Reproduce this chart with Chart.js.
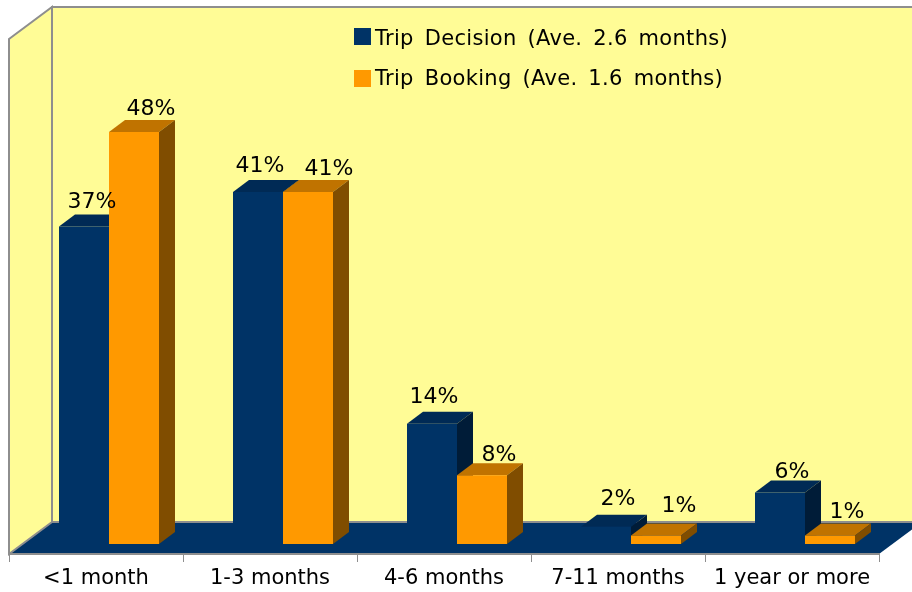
<!DOCTYPE html>
<html>
<head>
<meta charset="utf-8">
<title>Trip decision and booking</title>
<script src="https://cdn.jsdelivr.net/npm/chart.js@4/dist/chart.umd.min.js"></script>
<style>
  html, body { margin: 0; padding: 0; background: #fff; }
  canvas { display: block; }
</style>
</head>
<body>
<canvas id="myChart" width="912" height="592"></canvas>
<script>
const categories = ['<1 month', '1-3 months', '4-6 months', '7-11 months', '1 year or more'];
const tripDecision = [37, 41, 14, 2, 6];
const tripBooking = [48, 41, 8, 1, 1];
const decisionLabel = 'Trip Decision (Ave. 2.6 months)';
const bookingLabel = 'Trip Booking (Ave. 1.6 months)';

// label offsets from the bar's top centre, the original places them unevenly
const decisionNudge = [[8, -18], [2, -20], [2, -21], [12, -22], [12, -15]];
const bookingNudge = [[17, -17], [21, -17], [17, -14], [23, -23], [17, -17]];

const fontName = '"DejaVu Sans", Verdana, sans-serif';
const wallColor = '#fffc96';
const edgeColor = '#8e8e8e';
const navy = { front: '#003366', top: '#002a55', side: '#001c38' };
const orange = { front: '#ff9900', top: '#c07300', side: '#804d00' };

const wallDepth = { x: 43, y: 32 };
const barOffset = { x: 13, y: -10 };
const barDepth = { x: 16, y: 12 };

function poly(c, pts, fill, stroke) {
  c.beginPath();
  pts.forEach((p, i) => i ? c.lineTo(p[0], p[1]) : c.moveTo(p[0], p[1]));
  c.closePath();
  c.fillStyle = fill;
  c.fill();
  if (stroke) {
    c.strokeStyle = stroke;
    c.lineWidth = 2;
    c.stroke();
  }
}

const box3d = {
  id: 'box3d',
  beforeDraw(chart) {
    const c = chart.ctx, a = chart.chartArea;
    const bx = a.left + wallDepth.x, by = a.bottom - wallDepth.y, ty = a.top - wallDepth.y;
    c.save();
    // floor first so the wall edges stay visible on top of it
    poly(c, [[a.left, a.bottom], [bx, by], [a.right + wallDepth.x, by], [a.right, a.bottom]], navy.front);
    poly(c, [[bx, ty], [chart.width + 20, ty], [chart.width + 20, by], [bx, by]], wallColor, edgeColor);
    poly(c, [[a.left, a.top], [bx, ty], [bx, by], [a.left, a.bottom]], wallColor, edgeColor);
    c.restore();
  },
  beforeDatasetsDraw(chart) {
    const c = chart.ctx;
    c.save();
    c.translate(barOffset.x, barOffset.y);
    // tops and sides go under all the fronts, navy first so orange overlaps it
    [navy, orange].forEach((col, i) => {
      chart.getDatasetMeta(i).data.forEach(bar => {
        const l = bar.x - bar.width / 2, r = bar.x + bar.width / 2;
        const dx = barDepth.x, dy = barDepth.y;
        poly(c, [[l, bar.y], [l + dx, bar.y - dy], [r + dx, bar.y - dy], [r, bar.y]], col.top);
        poly(c, [[r, bar.y], [r + dx, bar.y - dy], [r + dx, bar.base - dy], [r, bar.base]], col.side);
      });
    });
  },
  afterDatasetsDraw(chart) {
    const c = chart.ctx;
    c.font = '22px ' + fontName;
    c.fillStyle = '#000';
    c.textAlign = 'center';
    c.textBaseline = 'alphabetic';
    [decisionNudge, bookingNudge].forEach((nudge, i) => {
      chart.getDatasetMeta(i).data.forEach((bar, j) => {
        c.fillText(chart.data.datasets[i].data[j] + '%', bar.x + nudge[j][0], bar.y + nudge[j][1]);
      });
    });
    c.restore();

    // legend sits inside the back wall
    c.save();
    c.font = '21px ' + fontName;
    c.letterSpacing = '0.3px';
    c.wordSpacing = '4px';
    c.textBaseline = 'alphabetic';
    chart.data.datasets.forEach((ds, i) => {
      c.fillStyle = ds.backgroundColor;
      c.fillRect(354, 28 + i * 42, 17, 17);
      c.fillStyle = '#000';
      c.fillText(ds.label, 375, 45 + i * 40);
    });
    c.restore();
  }
};

new Chart(document.getElementById('myChart'), {
  type: 'bar',
  data: {
    labels: categories,
    datasets: [
      { label: decisionLabel, data: tripDecision, backgroundColor: navy.front, clip: false },
      { label: bookingLabel, data: tripBooking, backgroundColor: orange.front, clip: false }
    ]
  },
  options: {
    responsive: false,
    animation: false,
    categoryPercentage: 0.5747,
    barPercentage: 1,
    layout: { padding: { left: 9, right: 33, top: 39, bottom: 0 } },
    plugins: {
      legend: { display: false },
      tooltip: { enabled: false }
    },
    scales: {
      x: {
        afterFit(scale) { scale.height = 38; },
        border: { color: edgeColor, width: 2 },
        grid: { drawOnChartArea: false, color: edgeColor, tickLength: 8, lineWidth: 1 },
        ticks: { color: '#000', padding: 4, maxRotation: 0, font: { family: fontName, size: 21 } }
      },
      y: { display: false, min: 0, max: 60 }
    }
  },
  plugins: [box3d]
});
</script>
</body>
</html>
